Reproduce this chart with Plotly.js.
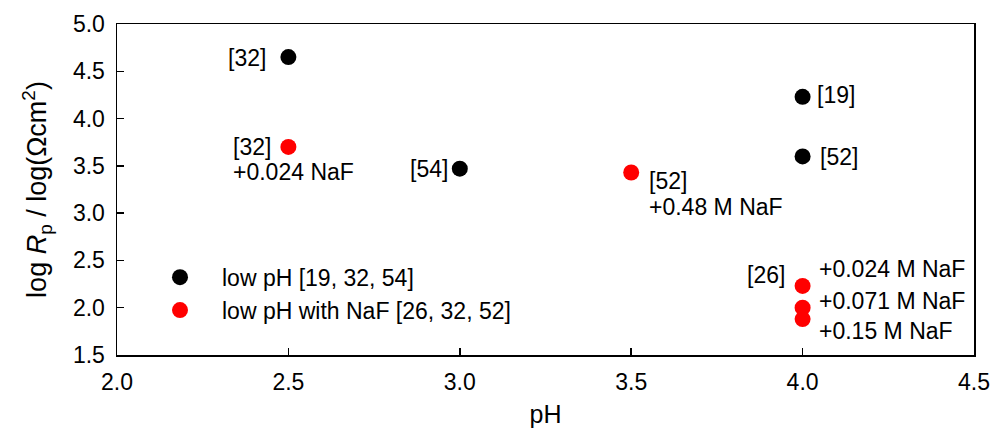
<!DOCTYPE html>
<html>
<head>
<meta charset="utf-8">
<script src="https://cdn.plot.ly/plotly-3.0.1.min.js"></script>
<style>html,body{margin:0;padding:0;background:#fff;}#chart{width:1001px;height:428px;}</style>
</head>
<body>
<div id="chart"></div>
<script>
// Data
const lowPH_x = [2.5, 3.0, 4.0, 4.0];
const lowPH_y = [4.65, 3.47, 4.23, 3.60];
const naf_x = [2.5, 3.5, 4.0, 4.0, 4.0];
const naf_y = [3.70, 3.43, 2.23, 2.00, 1.88];
const seriesNames = ["low pH [19, 32, 54]", "low pH with NaF [26, 32, 52]"];
const xTicks = [2.0, 2.5, 3.0, 3.5, 4.0, 4.5];
const yTicks = [1.5, 2.0, 2.5, 3.0, 3.5, 4.0, 4.5, 5.0];

const FONT = "Liberation Sans, Arial, sans-serif";
const FS = 23;

const traces = [
  {x: lowPH_x, y: lowPH_y, mode: "markers", type: "scatter", name: seriesNames[0],
   marker: {color: "#000000", size: 16}},
  {x: naf_x, y: naf_y, mode: "markers", type: "scatter", name: seriesNames[1],
   marker: {color: "#ff0000", size: 16}}
];

function lab(text, x, y, anchor, dx, dy) {
  return {text: text, x: x, y: y, xref: "x", yref: "y", showarrow: false,
    xanchor: anchor, yanchor: "middle", xshift: dx, yshift: -dy,
    font: {family: FONT, size: FS, color: "#000"}};
}

const annotations = [
  lab("[32]", lowPH_x[0], lowPH_y[0], "right", -20, 1),
  lab("[54]", lowPH_x[1], lowPH_y[1], "right", -10, 0),
  lab("[19]", lowPH_x[2], lowPH_y[2], "left", 12, -2),
  lab("[52]", lowPH_x[3], lowPH_y[3], "left", 15, 1),
  lab("[32]", naf_x[0], naf_y[0], "left", -57, 0),
  lab("+0.024 NaF", naf_x[0], naf_y[0], "left", -57, 25),
  lab("[52]", naf_x[1], naf_y[1], "left", 16, 9),
  lab("+0.48 M NaF", naf_x[1], naf_y[1], "left", 16, 35),
  lab("[26]", naf_x[2], naf_y[2], "right", -16, -11),
  lab("+0.024 M NaF", naf_x[2], naf_y[2], "left", 14, -17),
  lab("+0.071 M NaF", naf_x[3], naf_y[3], "left", 14, -7),
  lab("+0.15 M NaF", naf_x[4], naf_y[4], "left", 14, 12)
];

const axisCommon = {
  showline: true, mirror: true, linecolor: "#000", linewidth: 1.5,
  ticks: "inside", ticklen: 7, tickwidth: 1.5, tickcolor: "#000",
  showgrid: false, zeroline: false,
  tickfont: {family: FONT, size: 23, color: "#000"}
};

const layout = {
  width: 1001, height: 428,
  margin: {l: 117, r: 27, t: 24, b: 73},
  paper_bgcolor: "#fff", plot_bgcolor: "#fff",
  font: {family: FONT, size: FS, color: "#000"},
  showlegend: true,
  legend: {x: 0.0245, y: 0.3, xanchor: "left", yanchor: "top",
    bgcolor: "rgba(0,0,0,0)", font: {family: FONT, size: 23, color: "#000"},
    itemwidth: 74, tracegroupgap: 0},
  xaxis: Object.assign({}, axisCommon, {
    range: [2.0, 4.5], tickvals: xTicks, ticktext: xTicks.map(v => v.toFixed(1)),
    ticklabelstandoff: 6,
    title: {text: "pH", font: {family: FONT, size: 25, color: "#000"}, standoff: 12}
  }),
  yaxis: Object.assign({}, axisCommon, {
    range: [1.5, 5.0], tickvals: yTicks, ticktext: yTicks.map(v => v.toFixed(1)),
    ticklabelstandoff: 6,
    title: {text: "log <i>R</i><sub>p</sub> / log(Ωcm<sup>2</sup>)", font: {family: FONT, size: 27, color: "#000"}, standoff: 18}
  }),
  annotations: annotations
};

Plotly.newPlot("chart", traces, layout, {displayModeBar: false, staticPlot: true});
</script>
</body>
</html>
